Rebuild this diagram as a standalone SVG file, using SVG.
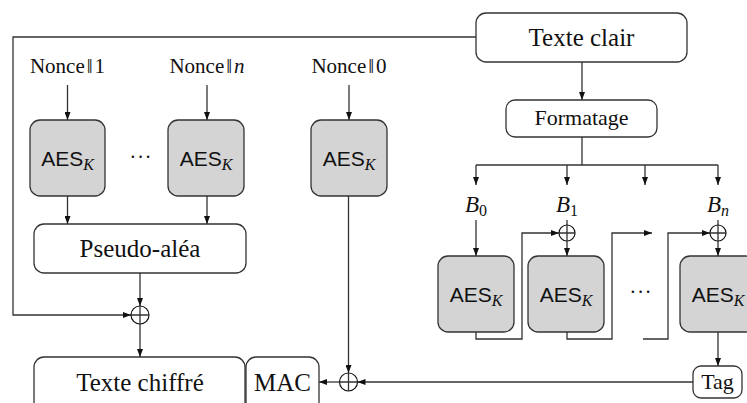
<svg xmlns="http://www.w3.org/2000/svg" width="747" height="403" viewBox="0 0 747 403">
<defs>
<marker id="ah" markerUnits="userSpaceOnUse" markerWidth="8" markerHeight="6" refX="8" refY="3" orient="auto">
<path d="M0,0 L8,3 L0,6 z" fill="#111"/>
</marker>
<style>
.box{fill:#fff;stroke:#333;stroke-width:1.3}
.aesb{fill:#d4d4d4;stroke:#333;stroke-width:1.3}
.ln{fill:none;stroke:#333;stroke-width:1.3}
.ar{fill:none;stroke:#333;stroke-width:1.3;marker-end:url(#ah)}
.xor{fill:#fff;stroke:#111;stroke-width:1.2}
.t{font-family:"Liberation Serif","DejaVu Serif",serif;fill:#111;text-anchor:middle}
.big{font-size:25px}
.mid{font-size:22px}
.nc{font-size:21px}
.dots{font-family:"Liberation Serif",serif;font-size:20px;fill:#111;text-anchor:middle;letter-spacing:1px}
.aes{font-family:"Liberation Sans","DejaVu Sans",sans-serif;font-size:21px;fill:#111;text-anchor:middle}
.k{font-family:"Liberation Serif","DejaVu Serif",serif;font-style:italic;font-size:16px}
.bi{font-family:"Liberation Serif","DejaVu Serif",serif;font-style:italic;font-size:23px;fill:#111;text-anchor:middle}
.sub{font-style:normal;font-size:16px}
.subi{font-style:italic;font-size:16px}
</style>
</defs>

<g id="connectors">
<path class="ar" d="M476,37 H13 V315 H131"/>
<path class="ar" d="M67.5,85 V120"/>
<path class="ar" d="M207,85 V120"/>
<path class="ar" d="M349,85 V120"/>
<path class="ar" d="M67.5,196 V224"/>
<path class="ar" d="M207,196 V224"/>
<path class="ar" d="M140,273 V306"/>
<path class="ar" d="M140,324 V357"/>
<path class="ar" d="M348.5,196 V373"/>
<path class="ar" d="M693,382 H357.5"/>
<path class="ar" d="M339.5,382 H319"/>
<path class="ar" d="M582,62 V100"/>
<path class="ln" d="M582,137 V165"/>
<path class="ln" d="M476,165 H718"/>
<path class="ar" d="M476,165 V185"/>
<path class="ar" d="M567,165 V185"/>
<path class="ar" d="M645,165 V185"/>
<path class="ar" d="M718,165 V185"/>
<path class="ar" d="M476,220 V256"/>
<path class="ln" d="M567,220 V225"/>
<path class="ln" d="M718,220 V225"/>
<path class="ar" d="M567,241 V256"/>
<path class="ar" d="M718,241 V256"/>
<path class="ar" d="M476,332 V339 H522 V233 H559"/>
<path class="ar" d="M567,332 V339 H612 V233 H652"/>
<path class="ar" d="M643,339 H668 V233 H710"/>
<path class="ar" d="M718,332 V366"/>
</g>

<g id="texte-clair"><rect class="box" x="476" y="13" width="211" height="49" rx="10"/><text class="t big" x="581.5" y="46">Texte clair</text></g>
<g id="formatage"><rect class="box" x="506" y="100" width="151" height="37" rx="9"/><text class="t mid" x="581.5" y="125">Formatage</text></g>

<g id="nonce1"><text class="t nc" x="67.5" y="73">Nonce<tspan dx="2">‖</tspan><tspan dx="2">1</tspan></text></g>
<g id="noncen"><text class="t nc" x="207" y="73">Nonce<tspan dx="2">‖</tspan><tspan dx="2" font-style="italic">n</tspan></text></g>
<g id="nonce0"><text class="t nc" x="349" y="73">Nonce<tspan dx="2">‖</tspan><tspan dx="2">0</tspan></text></g>

<g id="aes1"><rect class="aesb" x="30" y="120" width="75" height="76" rx="10"/><text class="aes" x="67.5" y="166">AES<tspan class="k" dy="4">K</tspan></text></g>
<g id="dots1"><text class="dots" x="141" y="164">···</text></g>
<g id="aes2"><rect class="aesb" x="168" y="120" width="76" height="76" rx="10"/><text class="aes" x="206" y="166">AES<tspan class="k" dy="4">K</tspan></text></g>
<g id="aes3"><rect class="aesb" x="311" y="120" width="76" height="76" rx="10"/><text class="aes" x="349" y="166">AES<tspan class="k" dy="4">K</tspan></text></g>

<g id="pseudo-alea"><rect class="box" x="34" y="224" width="212" height="49" rx="10"/><text class="t big" x="140" y="257">Pseudo-aléa</text></g>

<g id="xor1"><circle class="xor" cx="140" cy="315" r="9"/><path class="ln" d="M131,315 H149 M140,306 V324"/></g>

<g id="texte-chiffre"><rect class="box" x="34" y="357" width="211" height="60" rx="10"/><text class="t big" x="140" y="391">Texte chiffré</text></g>
<g id="mac"><rect class="box" x="246" y="357" width="73" height="60" rx="10"/><text class="t big" x="282.5" y="391">MAC</text></g>

<g id="xor-mac"><circle class="xor" cx="348.5" cy="382" r="9"/><path class="ln" d="M339.5,382 H357.5 M348.5,373 V391"/></g>

<g id="b0"><text class="bi" x="476" y="212">B<tspan class="sub" dy="4">0</tspan></text></g>
<g id="b1"><text class="bi" x="567" y="212">B<tspan class="sub" dy="4">1</tspan></text></g>
<g id="bn"><text class="bi" x="718" y="212">B<tspan class="subi" dy="4">n</tspan></text></g>

<g id="xor-b1"><circle class="xor" cx="567" cy="233" r="8"/><path class="ln" d="M559,233 H575 M567,225 V241"/></g>
<g id="xor-bn"><circle class="xor" cx="718" cy="233" r="8"/><path class="ln" d="M710,233 H726 M718,225 V241"/></g>

<g id="aes4"><rect class="aesb" x="438" y="256" width="76" height="76" rx="10"/><text class="aes" x="476" y="302">AES<tspan class="k" dy="4">K</tspan></text></g>
<g id="aes5"><rect class="aesb" x="528" y="256" width="76" height="76" rx="10"/><text class="aes" x="566" y="302">AES<tspan class="k" dy="4">K</tspan></text></g>
<g id="dots2"><text class="dots" x="641" y="299">···</text></g>
<g id="aes6"><rect class="aesb" x="680" y="256" width="76" height="76" rx="10"/><text class="aes" x="718" y="302">AES<tspan class="k" dy="4">K</tspan></text></g>

<g id="tag"><rect class="box" x="693" y="366" width="49" height="32" rx="8"/><text class="t mid" x="717.5" y="389">Tag</text></g>
</svg>
